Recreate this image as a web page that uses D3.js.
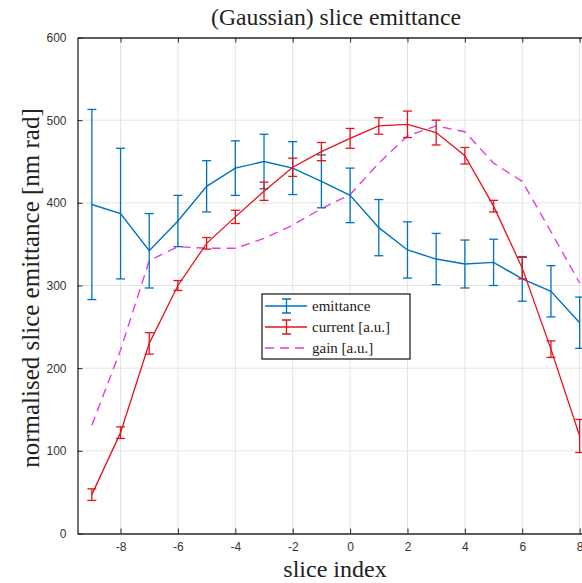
<!DOCTYPE html>
<html>
<head>
<meta charset="utf-8">
<script src="https://cdn.jsdelivr.net/npm/d3@7"></script>
<style>
  body { margin: 0; background: #fff; overflow: hidden; }
  svg { display: block; }
</style>
</head>
<body>
<div id="chart"></div>
<script>
// data
const sliceIndex = [-9, -8, -7, -6, -5, -4, -3, -2, -1, 0, 1, 2, 3, 4, 5, 6, 7, 8];
const emittance = [398, 387, 342, 378, 420, 442, 450, 442, 426, 409, 370, 343, 332, 326, 328, 308, 293, 255];
const emittanceErr = [115, 79, 45, 31, 31, 33, 33, 32, 32, 33, 34, 34, 31, 29, 28, 27, 31, 31];
const current = [47, 122, 230, 300, 351, 383, 414, 443, 462, 478, 493, 495, 485, 457, 396, 321, 223, 118];
const currentErr = [7, 7, 13, 6, 7, 8, 11, 11, 11, 12, 10, 16, 15, 10, 7, 13, 10, 20];
const gain = [131, 222, 330, 347, 345, 345, 357, 373, 393, 410, 448, 481, 493, 486, 448, 426, 365, 303];
const xTicks = [-8, -6, -4, -2, 0, 2, 4, 6, 8];
const yTicks = [0, 100, 200, 300, 400, 500, 600];

const width = 582;
const height = 583;

const svg = d3.select("#chart")
  .append("svg")
  .attr("width", width)
  .attr("height", height);

const x = d3.scaleLinear().domain([-9.5, 8.5]).range([77.5, 594]);
const y = d3.scaleLinear().domain([0, 600]).range([533.5, 37.5]);

const blue = "#0072BD";
const red = "#e3141e";
const magenta = "#e03ee0";
const axisColor = "#262626";

// grid
svg.append("g")
  .selectAll("line")
  .data(xTicks)
  .enter()
  .append("line")
  .attr("x1", d => x(d)).attr("x2", d => x(d))
  .attr("y1", y(0)).attr("y2", y(600))
  .attr("stroke", "#e3e3e3").attr("stroke-width", 1);
svg.append("g")
  .selectAll("line")
  .data(yTicks.slice(1, -1))
  .enter()
  .append("line")
  .attr("x1", x(-9.5)).attr("x2", x(8.5))
  .attr("y1", d => y(d)).attr("y2", d => y(d))
  .attr("stroke", "#e3e3e3").attr("stroke-width", 1);

// axes, MATLAB style with ticks pointing inward
const bottomAxis = svg.append("g")
  .attr("transform", `translate(0, ${y(0)})`)
  .call(d3.axisBottom(x).tickValues(xTicks).tickSizeInner(-5).tickSizeOuter(0).tickPadding(9).tickFormat(d3.format("d")));
const topAxis = svg.append("g")
  .attr("transform", `translate(0, ${y(600)})`)
  .call(d3.axisTop(x).tickValues(xTicks).tickSizeInner(-5).tickSizeOuter(0).tickFormat(""));
const leftAxis = svg.append("g")
  .attr("transform", `translate(${x(-9.5)}, 0)`)
  .call(d3.axisLeft(y).tickValues(yTicks).tickSizeInner(-5).tickSizeOuter(0).tickPadding(11));

[bottomAxis, topAxis, leftAxis].forEach(g => {
  g.select(".domain").attr("stroke", axisColor).attr("stroke-width", 1.3);
  g.selectAll(".tick line").attr("stroke", axisColor).attr("stroke-width", 1);
  g.selectAll(".tick text")
    .attr("fill", "#333")
    .style("font-family", "'Liberation Sans', Arial, sans-serif")
    .style("font-size", "12px");
});
bottomAxis.selectAll(".tick text").text(d => d < 0 ? "-" + Math.abs(d) : d);

// series
const line = d3.line().x((d, i) => x(sliceIndex[i])).y(d => y(d));

function errorBars(values, errs, color) {
  const g = svg.append("g").attr("stroke", color).attr("stroke-width", 1.3).attr("fill", "none");
  const rows = values.map((v, i) => ({x: sliceIndex[i], v: v, e: errs[i]}));
  g.selectAll(".stem").data(rows).enter().append("line")
    .attr("x1", d => x(d.x)).attr("x2", d => x(d.x))
    .attr("y1", d => y(d.v - d.e)).attr("y2", d => y(d.v + d.e));
  g.selectAll(".capTop").data(rows).enter().append("line")
    .attr("x1", d => x(d.x) - 4.5).attr("x2", d => x(d.x) + 4.5)
    .attr("y1", d => y(d.v + d.e)).attr("y2", d => y(d.v + d.e));
  g.selectAll(".capBottom").data(rows).enter().append("line")
    .attr("x1", d => x(d.x) - 4.5).attr("x2", d => x(d.x) + 4.5)
    .attr("y1", d => y(d.v - d.e)).attr("y2", d => y(d.v - d.e));
}

svg.append("path")
  .datum(gain)
  .attr("d", line)
  .attr("fill", "none")
  .attr("stroke", magenta)
  .attr("stroke-width", 1.4)
  .attr("stroke-dasharray", "9,6");

svg.append("path")
  .datum(emittance)
  .attr("d", line)
  .attr("fill", "none")
  .attr("stroke", blue)
  .attr("stroke-width", 1.4);
errorBars(emittance, emittanceErr, blue);

svg.append("path")
  .datum(current)
  .attr("d", line)
  .attr("fill", "none")
  .attr("stroke", red)
  .attr("stroke-width", 1.3);
errorBars(current, currentErr, red);

// labels
const serif = "'Liberation Serif', 'Times New Roman', serif";
svg.append("text")
  .attr("x", 336).attr("y", 25)
  .attr("text-anchor", "middle")
  .style("font-family", serif).style("font-size", "23.7px")
  .attr("fill", "#222")
  .text("(Gaussian) slice emittance");
svg.append("text")
  .attr("x", 335).attr("y", 577)
  .attr("text-anchor", "middle")
  .style("font-family", serif).style("font-size", "24px")
  .attr("fill", "#222")
  .text("slice index");
svg.append("text")
  .attr("transform", `translate(39, 288) rotate(-90)`)
  .attr("text-anchor", "middle")
  .style("font-family", serif).style("font-size", "25px")
  .attr("fill", "#222")
  .text("normalised slice emittance [nm rad]");

// legend
const legend = svg.append("g").attr("transform", "translate(262, 294)");
legend.append("rect")
  .attr("width", 148).attr("height", 65)
  .attr("fill", "#fff").attr("stroke", "#111").attr("stroke-width", 1.2);
const legendItems = [
  {label: "emittance", color: blue, bar: true},
  {label: "current [a.u.]", color: red, bar: true},
  {label: "gain [a.u.]", color: magenta, bar: false}
];
legendItems.forEach((d, i) => {
  const cy = 12 + i * 21;
  const g = legend.append("g").attr("transform", `translate(0, ${cy})`);
  g.append("line")
    .attr("x1", 3).attr("x2", 45).attr("y1", 0).attr("y2", 0)
    .attr("stroke", d.color).attr("stroke-width", 1.4)
    .attr("stroke-dasharray", d.bar ? null : "9,6");
  if (d.bar) {
    g.append("path")
      .attr("d", "M20,-7H29M24.5,-7V7M20,7H29")
      .attr("fill", "none").attr("stroke", d.color).attr("stroke-width", 1.3);
  }
  g.append("text")
    .attr("x", 50).attr("y", 5)
    .style("font-family", serif).style("font-size", "15px")
    .attr("fill", "#222")
    .text(d.label);
});
</script>
</body>
</html>
